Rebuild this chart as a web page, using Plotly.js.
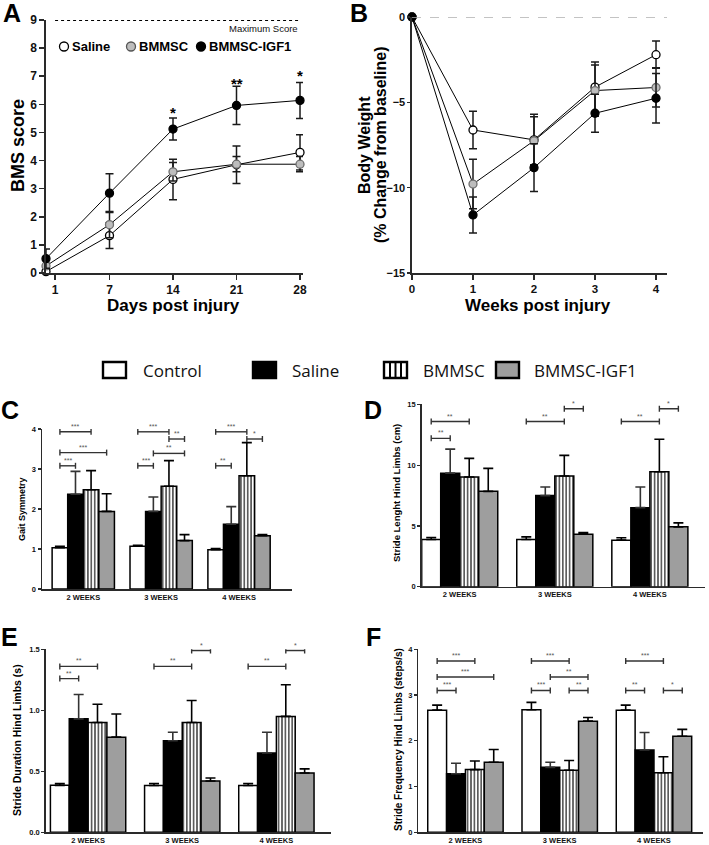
<!DOCTYPE html>
<html><head><meta charset="utf-8">
<script src="https://cdn.plot.ly/plotly-3.0.1.min.js"></script>
<style>html,body{margin:0;padding:0;background:#fff;}#chart{width:709px;height:845px;}</style>
</head><body><div id="chart"></div>
<script>
// ---------- Panel A: BMS score ----------
const daysA = [0, 7, 14, 21, 28];
const dayTicksA = [1, 7, 14, 21, 28];
const bmsSaline = [0.05, 1.33, 3.33, 3.85, 4.29];
const bmsSalineErr = [0.08, 0.46, 0.72, 0.67, 0.63];
const bmsBMMSC = [0.25, 1.72, 3.6, 3.87, 3.87];
const bmsBMMSCErr = [0.1, 0.47, 0.33, 0.27, 0.27];
const bmsIGF1 = [0.51, 2.84, 5.12, 5.96, 6.14];
const bmsIGF1Err = [0.34, 0.69, 0.39, 0.68, 0.64];
const sigDaysA = [14, 21, 28];
const sigLabelsA = ['*', '**', '*'];
const sigYA = [5.86, 6.9, 7.17];
const maxScore = 9;

// ---------- Panel B: body weight ----------
const weeksB = [0, 1, 2, 3, 4];
const bwSaline = [0, -6.62, -7.2, -4.11, -2.21];
const bwSalineErr = [0, 1.1, 1.5, 1.47, 0.8];
const bwBMMSC = [0, -9.79, -7.25, -4.31, -4.13];
const bwBMMSCErr = [0, 1.45, 1.4, 1.5, 1.15];
const bwIGF1 = [0, -11.6, -8.83, -5.64, -4.76];
const bwIGF1Err = [0, 1.05, 1.4, 1.12, 1.45];

// ---------- Bar panels ----------
const groupLabels = ['2 WEEKS', '3 WEEKS', '4 WEEKS'];
const barSeriesNames = ['Control', 'Saline', 'BMMSC', 'BMMSC-IGF1'];
const lineSeriesNames = ['Saline', 'BMMSC', 'BMMSC-IGF1'];

// C: Gait symmetry
const gaitControl = [1.03, 1.07, 0.98];   const gaitControlErr = [0.04, 0.02, 0.03];
const gaitSaline = [2.37, 1.94, 1.62];    const gaitSalineErr = [0.57, 0.36, 0.44];
const gaitBMMSC = [2.48, 2.57, 2.83];     const gaitBMMSCErr = [0.48, 0.64, 0.83];
const gaitIGF1 = [1.94, 1.21, 1.33];      const gaitIGF1Err = [0.44, 0.15, 0.03];
const gaitSig = [[0,0,2,3.93,'***'],[0,0,3,3.41,'***'],[0,0,1,3.08,'***'],
                 [1,0,2,3.93,'***'],[1,2,3,3.75,'**'],[1,1,3,3.39,'**'],[1,0,1,3.08,'***'],
                 [2,0,2,3.93,'***'],[2,2,3,3.75,'*'],[2,0,1,3.08,'**']];
// D: Stride length
const lenControl = [3.88, 3.88, 3.83];    const lenControlErr = [0.16, 0.22, 0.19];
const lenSaline = [9.34, 7.49, 6.5];      const lenSalineErr = [1.97, 0.71, 1.7];
const lenBMMSC = [9.02, 9.1, 9.45];       const lenBMMSCErr = [1.53, 1.7, 2.68];
const lenIGF1 = [7.84, 4.32, 4.92];       const lenIGF1Err = [1.89, 0.13, 0.33];
const lenSig = [[0,0,2,13.58,'**'],[0,0,1,12.2,'**'],
                [1,0,2,13.58,'**'],[1,2,3,14.64,'*'],
                [2,0,2,13.58,'**'],[2,2,3,14.64,'*']];
// E: Stride duration
const durControl = [0.385, 0.383, 0.383]; const durControlErr = [0.015, 0.017, 0.017];
const durSaline = [0.93, 0.75, 0.65];     const durSalineErr = [0.2, 0.07, 0.17];
const durBMMSC = [0.90, 0.90, 0.95];      const durBMMSCErr = [0.15, 0.18, 0.26];
const durIGF1 = [0.78, 0.42, 0.486];      const durIGF1Err = [0.19, 0.025, 0.034];
const durSig = [[0,0,2,1.36,'**'],[0,0,1,1.26,'**'],
                [1,0,2,1.36,'**'],[1,2,3,1.49,'*'],
                [2,0,2,1.36,'**'],[2,2,3,1.49,'*']];
// F: Stride frequency
const freqControl = [2.67, 2.68, 2.67];   const freqControlErr = [0.11, 0.16, 0.11];
const freqSaline = [1.28, 1.42, 1.80];    const freqSalineErr = [0.23, 0.11, 0.38];
const freqBMMSC = [1.37, 1.355, 1.30];    const freqBMMSCErr = [0.19, 0.215, 0.35];
const freqIGF1 = [1.53, 2.43, 2.10];      const freqIGF1Err = [0.28, 0.08, 0.15];
const freqSig = [[0,0,2,3.745,'***'],[0,0,3,3.395,'***'],[0,0,1,3.10,'***'],
                 [1,0,2,3.745,'***'],[1,1,3,3.395,'**'],[1,0,1,3.10,'***'],[1,2,3,3.10,'**'],
                 [2,0,2,3.745,'***'],[2,0,1,3.10,'**'],[2,2,3,3.10,'*']];

// ---------- helpers ----------
const W = 709, H = 845;
const px = x => x / W, py = y => 1 - y / H;
const FONT = 'Liberation Sans, Arial, sans-serif';
const AX = '#2a2a2a';
const traces = [], shapes = [], annotations = [];

// line panels
const markerStyles = [
  {fill: '#ffffff', line: '#000000'},
  {fill: '#bdbdbd', line: '#6e6e6e'},
  {fill: '#000000', line: '#000000'}
];
function addLinePanel(xs, ys, errs, xa, ya) {
  ys.forEach((y, i) => {
    traces.push({type: 'scatter', mode: 'lines+markers', x: xs, y: y, xaxis: xa, yaxis: ya,
      name: lineSeriesNames[i], showlegend: false, hoverinfo: 'skip', cliponaxis: false,
      line: {color: '#000', width: 1},
      marker: {size: 8, color: markerStyles[i].fill, line: {color: markerStyles[i].line, width: 1.3}},
      error_y: {type: 'data', array: errs[i], visible: true, color: '#1a1a1a', thickness: 1.5, width: 4}
    });
  });
}
addLinePanel(daysA, [bmsSaline, bmsBMMSC, bmsIGF1], [bmsSalineErr, bmsBMMSCErr, bmsIGF1Err], 'x', 'y');
addLinePanel(weeksB, [bwSaline, bwBMMSC, bwIGF1], [bwSalineErr, bwBMMSCErr, bwIGF1Err], 'x2', 'y2');

// bar panels
const BARW = 0.2;
const barStyles = [
  {color: '#ffffff'},
  {color: '#000000'},
  {color: '#ffffff', pattern: {shape: '|', fgcolor: '#000', bgcolor: '#fff', size: 3.4, solidity: 0.32, fillmode: 'replace'}},
  {color: '#9e9e9e'}
];
function addBarPanel(means, errs, sig, xa, ya) {
  means.forEach((m, i) => {
    const mk = {color: barStyles[i].color, line: {color: '#000', width: 1.5}};
    if (barStyles[i].pattern) mk.pattern = barStyles[i].pattern;
    traces.push({type: 'bar', x: [0, 1, 2], y: m, xaxis: xa, yaxis: ya, name: barSeriesNames[i],
      showlegend: false, hoverinfo: 'skip', marker: mk,
      error_y: {type: 'data', symmetric: false, array: errs[i], arrayminus: m.map(() => 0),
        color: i === 1 ? '#333' : '#000', thickness: 1.6, width: 5}
    });
  });
  sig.forEach(s => {
    const [g, a, b, y, lab] = s;
    const xa0 = g + (a - 1.5) * BARW, xb0 = g + (b - 1.5) * BARW;
    const base = {type: 'line', xref: xa, yref: ya, line: {color: '#333', width: 1.4}};
    shapes.push(Object.assign({}, base, {x0: xa0, x1: xb0, y0: y, y1: y}));
    [xa0, xb0].forEach(xx => shapes.push(Object.assign({}, base,
      {x0: xx, x1: xx, ysizemode: 'pixel', yanchor: y, y0: -3, y1: 3})));
    annotations.push({xref: xa, yref: ya, x: (xa0 + xb0) / 2, y: y, text: lab, showarrow: false,
      yanchor: 'bottom', yshift: 0, font: {family: FONT, size: 7, color: '#555'}});
  });
}
addBarPanel([gaitControl, gaitSaline, gaitBMMSC, gaitIGF1], [gaitControlErr, gaitSalineErr, gaitBMMSCErr, gaitIGF1Err], gaitSig, 'x3', 'y3');
addBarPanel([lenControl, lenSaline, lenBMMSC, lenIGF1], [lenControlErr, lenSalineErr, lenBMMSCErr, lenIGF1Err], lenSig, 'x4', 'y4');
addBarPanel([durControl, durSaline, durBMMSC, durIGF1], [durControlErr, durSalineErr, durBMMSCErr, durIGF1Err], durSig, 'x5', 'y5');
addBarPanel([freqControl, freqSaline, freqBMMSC, freqIGF1], [freqControlErr, freqSalineErr, freqBMMSCErr, freqIGF1Err], freqSig, 'x6', 'y6');

// reference lines
shapes.push({type: 'line', xref: 'x', yref: 'y', x0: dayTicksA[0], x1: dayTicksA[dayTicksA.length - 1], y0: maxScore, y1: maxScore,
  line: {color: '#000', width: 1.8, dash: 'dot'}});
annotations.push({xref: 'x', yref: 'y', x: 28, y: maxScore, text: 'Maximum Score', showarrow: false,
  xanchor: 'right', yanchor: 'top', yshift: -1, font: {family: FONT, size: 9.5, color: '#111'}});
shapes.push({type: 'line', xref: 'x2 domain', yref: 'y2', x0: 0, x1: 1, y0: 0, y1: 0,
  line: {color: '#b0b0b0', width: 1.3, dash: 'dash'}});

// significance stars A
sigDaysA.forEach((d, i) => annotations.push({xref: 'x', yref: 'y', x: d, y: sigYA[i], text: sigLabelsA[i],
  showarrow: false, yanchor: 'middle', yshift: -4, font: {family: FONT, size: 15, weight: 'bold', color: '#000'}}));

// legend inside A
const legAcx = [64, 131, 201], legAtx = [70, 137, 207], legAy = 46.5;
lineSeriesNames.forEach((n, i) => {
  shapes.push({type: 'circle', xref: 'paper', yref: 'paper', x0: px(legAcx[i] - 4.5), x1: px(legAcx[i] + 4.5),
    y0: py(legAy + 4.5), y1: py(legAy - 4.5), fillcolor: markerStyles[i].fill, line: {color: markerStyles[i].line === '#6e6e6e' ? '#555' : '#000', width: 1.3}});
  annotations.push({xref: 'paper', yref: 'paper', x: px(legAtx[i]), y: py(legAy), xanchor: 'left', yanchor: 'middle',
    text: n, showarrow: false, font: {family: FONT, size: 13, weight: 'bold', color: '#000'}});
});

// main legend
const legBoxX = [103, 253, 384, 496], legTextX = [141, 290, 421, 532], legY = 370;
barSeriesNames.forEach((n, i) => {
  shapes.push({type: 'rect', xref: 'paper', yref: 'paper', x0: px(legBoxX[i]), x1: px(legBoxX[i] + 23),
    y0: py(legY + 8), y1: py(legY - 8), fillcolor: barStyles[i].color, line: {color: '#000', width: 2.4}});
  if (barStyles[i].pattern) {
    [6, 11.5, 17].forEach(o => shapes.push({type: 'line', xref: 'paper', yref: 'paper',
      x0: px(legBoxX[i] + o), x1: px(legBoxX[i] + o), y0: py(legY + 8), y1: py(legY - 8), line: {color: '#000', width: 2}}));
  }
  annotations.push({xref: 'paper', yref: 'paper', x: px(legTextX[i]), y: py(legY), xanchor: 'left', yanchor: 'middle',
    text: n, showarrow: false, font: {family: 'Open Sans, sans-serif', size: 17, color: '#111'}});
});

// panel letters
[['A', 12, 13], ['B', 359, 13], ['C', 10, 410], ['D', 373, 410], ['E', 9, 637], ['F', 374, 637]].forEach(l =>
  annotations.push({xref: 'paper', yref: 'paper', x: px(l[1]), y: py(l[2]), text: l[0], showarrow: false,
    xanchor: 'center', yanchor: 'middle', font: {family: FONT, size: 25, weight: 'bold', color: '#000'}}));

// axis titles
const titles = [
  ['BMS score', 18, 146, -90, 18],
  ['Days post injury', 173, 305, 0, 17],
  ['Body Weight', 364, 145, -90, 16],
  ['(% Change from baseline)', 380, 145, -90, 16],
  ['Weeks post injury', 538, 305, 0, 17],
  ['Gait Symmetry', 22, 509, -90, 9],
  ['Stride Lenght Hind Limbs (cm)', 397, 493, -90, 9.5],
  ['Stride Duration Hind Limbs (s)', 17, 740, -90, 10.5],
  ['Stride Frequency Hind Limbs (steps/s)', 398, 740, -90, 10]
];
titles.forEach(t => annotations.push({xref: 'paper', yref: 'paper', x: px(t[1]), y: py(t[2]), text: t[0],
  textangle: t[3], showarrow: false, xanchor: 'center', yanchor: 'middle',
  font: {family: FONT, size: t[4], weight: 'bold', color: '#000'}}));

// axes
function lineAx(domain, extra, fs) {
  return Object.assign({domain: domain, showline: true, linecolor: AX, linewidth: 1.6, ticks: 'outside',
    ticklen: 5, tickwidth: 1.5, tickcolor: AX, showgrid: false, zeroline: false, fixedrange: true,
    tickfont: {family: FONT, size: fs || 12, weight: 'bold', color: '#111'}}, extra);
}
function barX(domain, range, ya) {
  return {domain: domain, range: range, anchor: ya, tickvals: [0, 1, 2], ticktext: groupLabels, showline: true,
    linecolor: AX, linewidth: 1.5, ticks: '', showgrid: false, zeroline: false,
    tickfont: {family: FONT, size: 7.5, weight: 'bold', color: '#111'}};
}
function barY(domain, range, dtick, xa, fmt) {
  return {domain: domain, range: range, anchor: xa, dtick: dtick, tickformat: fmt || '', showline: true,
    linecolor: AX, linewidth: 1.5, ticks: 'outside', ticklen: 3, tickwidth: 1.2, tickcolor: AX,
    showgrid: false, zeroline: false, tickfont: {family: FONT, size: 7.5, weight: 'bold', color: '#111'}};
}

const layout = {
  width: W, height: H, margin: {l: 0, r: 0, t: 0, b: 0}, paper_bgcolor: '#fff', plot_bgcolor: 'rgba(0,0,0,0)',
  showlegend: false, barmode: 'group', bargap: 0.2, bargroupgap: 0,
  xaxis: lineAx([px(46), px(303)], {range: [0, 28.33], tickvals: dayTicksA, anchor: 'y'}),
  yaxis: lineAx([py(273), py(20)], {range: [0, 9], dtick: 1, anchor: 'x'}),
  xaxis2: lineAx([px(412), px(667)], {range: [0, 4.18], dtick: 1, anchor: 'y2'}, 11.5),
  yaxis2: lineAx([py(273), py(17)], {range: [-15, 0], tickvals: [-15, -10, -5, 0], anchor: 'x2', ticklen: 3}, 11),
  xaxis3: barX([px(42), px(292)], [-0.53, 2.68], 'y3'),
  yaxis3: barY([py(589), py(429)], [0, 4], 1, 'x3'),
  xaxis4: barX([px(421.7), px(705)], [-0.40, 2.58], 'y4'),
  yaxis4: barY([py(586.7), py(404.3)], [0, 15], 5, 'x4'),
  xaxis5: barX([px(45.7), px(331)], [-0.45, 2.58], 'y5'),
  yaxis5: barY([py(832.3), py(649.3)], [0, 1.5], 0.5, 'x5', '.1f'),
  xaxis6: barX([px(418.3), px(703)], [-0.5, 2.52], 'y6'),
  yaxis6: barY([py(832.3), py(649.3)], [0, 4], 1, 'x6'),
  shapes: shapes, annotations: annotations
};
Plotly.newPlot('chart', traces, layout, {staticPlot: true, displayModeBar: false});
</script></body></html>
